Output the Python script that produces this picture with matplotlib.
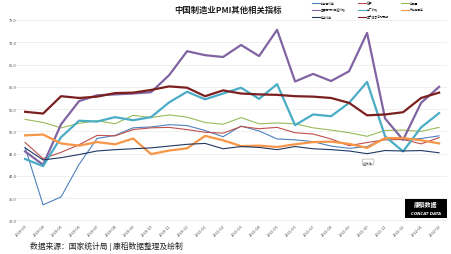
import matplotlib
matplotlib.use("Agg")
import matplotlib.pyplot as plt
from matplotlib.patches import Rectangle

plt.rcParams['font.family'] = ['Noto Sans CJK SC', 'DejaVu Sans']

months = ["2020-03", "2020-04", "2020-05", "2020-06", "2020-07", "2020-08",
          "2020-09", "2020-10", "2020-11", "2020-12", "2021-01", "2021-02",
          "2021-03", "2021-04", "2021-05", "2021-06", "2021-07", "2021-08",
          "2021-09", "2021-10", "2021-11", "2021-12", "2022-01", "2022-02"]

new_export = [46.4, 33.5, 35.3, 42.6, 48.4, 49.1, 50.8, 51.0, 51.5, 51.3, 50.2, 48.8,
              51.2, 50.1, 48.3, 48.1, 47.7, 46.7, 46.2, 46.6, 48.5, 48.1, 48.4, 49.0]
imports = [47.5, 43.9, 45.3, 47.0, 49.1, 49.0, 50.4, 50.8, 50.9, 50.4, 49.8, 49.6,
           51.1, 50.6, 50.9, 49.7, 49.4, 48.3, 46.8, 47.5, 48.1, 48.2, 47.2, 48.6]
purchase = [52.7, 52.0, 50.8, 51.8, 52.4, 51.7, 53.6, 53.1, 53.7, 53.2, 52.0, 51.6,
            53.1, 51.7, 51.9, 51.7, 50.8, 50.3, 49.7, 48.9, 50.2, 50.3, 50.0, 50.9]
raw_price = [45.5, 42.5, 51.6, 56.8, 58.1, 58.3, 58.5, 58.8, 62.6, 68.0, 67.1, 66.7,
             69.4, 66.9, 72.8, 61.2, 62.9, 61.3, 63.5, 72.1, 52.9, 48.1, 56.4, 60.0]
out_price = [43.8, 42.2, 48.7, 52.4, 52.2, 53.2, 52.5, 53.2, 56.5, 58.9, 57.2, 58.5,
             59.8, 57.3, 60.6, 51.4, 53.8, 53.4, 56.4, 61.1, 48.9, 45.5, 50.9, 54.1]
fin_stock = [49.1, 49.3, 47.3, 46.8, 47.6, 47.1, 48.4, 44.9, 45.7, 46.2, 49.0, 48.0,
             46.7, 46.8, 46.5, 47.1, 47.6, 47.7, 47.2, 46.3, 48.5, 48.5, 48.0, 47.3]
backlog = [46.3, 43.6, 44.1, 44.8, 45.6, 45.9, 46.1, 46.3, 46.7, 47.1, 47.3, 46.1,
           46.6, 46.4, 45.9, 46.6, 46.1, 45.9, 45.6, 45.0, 45.7, 45.6, 45.7, 45.2]
expect = [54.4, 54.0, 57.9, 57.5, 57.8, 58.6, 58.7, 59.3, 60.1, 59.8, 57.9, 59.2,
          58.5, 58.3, 58.2, 57.9, 57.8, 57.5, 56.4, 53.6, 53.8, 54.3, 57.5, 58.7]

series = [
    ("新出口订单", new_export, "#4f81bd", 0.8),
    ("进口", imports, "#c0504d", 0.8),
    ("采购量", purchase, "#9bbb59", 0.8),
    ("主要原材料购进价格", raw_price, "#8064a2", 1.6),
    ("出厂价格", out_price, "#4bacc6", 1.6),
    ("产成品库存", fin_stock, "#f79646", 1.6),
    ("在手订单", backlog, "#1f3864", 0.8),
    ("生产经营活动预期", expect, "#7b1f1f", 1.6),
]

W, H = 452, 255
fig = plt.figure(figsize=(W / 100, H / 100), dpi=100)
ax_l, ax_r, ax_t, ax_b = 15, 447, 21, 221.5
ax = fig.add_axes([ax_l / W, 1 - ax_b / H, (ax_r - ax_l) / W, (ax_b - ax_t) / H])

x = list(range(len(months)))
handles = []
for name, vals, col, lw in series:
    h, = ax.plot(x, vals, color=col, lw=lw, label=name, solid_joinstyle='round')
    handles.append(h)

ax.set_ylim(30, 75)
yt = [30, 35, 40, 45, 50, 55, 60, 65, 70, 75]
ax.set_yticks(yt)
ax.set_yticklabels([f"{v:.1f}" for v in yt])
ax.set_xlim(-0.56, 23.44)
ax.set_xticks(x)
ax.set_xticklabels(months, rotation=45, ha='right', rotation_mode='anchor')
ax.tick_params(axis='both', length=0, labelsize=2.8, colors='#444444', pad=2)
ax.tick_params(axis='y', pad=-1)
ax.grid(axis='y', color='#eeeeee', lw=0.6)
ax.set_axisbelow(True)
for s in ax.spines.values():
    s.set_visible(False)

fig.text(228 / W, 1 - 10 / H, "中国制造业PMI其他相关指标", ha='center', va='center',
         fontsize=6, fontweight='bold', color='#222222')

# legend laid out row-wise (matplotlib fills columns first)
order = [0, 3, 6, 1, 4, 7, 2, 5]
leg = fig.legend([handles[i] for i in order], [series[i][0] for i in order],
                 ncol=3, loc='upper left', bbox_to_anchor=(311 / W, 1 - 0.5 / H),
                 fontsize=2.0, frameon=False, handlelength=2.9, handletextpad=0.3,
                 columnspacing=4.4, labelspacing=1.1, borderaxespad=0)
for line in leg.get_lines():
    line.set_linewidth(0.8)

fig.text(30 / W, 1 - 246 / H, "数据来源：国家统计局 | 康稻数据整理及绘制", ha='left', va='center',
         fontsize=5.6, color='#222222')

fig.text(368 / W, 1 - 163 / H, "坐标轴", ha='center', va='center', fontsize=2.3,
         color='#555555', bbox=dict(boxstyle='round,pad=0.3', fc='white', ec='#999999', lw=0.4))

fig.patches.append(Rectangle((405 / W, 1 - 219 / H), 42 / W, 19 / H, transform=fig.transFigure,
                             facecolor='black', edgecolor='none'))
fig.text(426 / W, 1 - 205 / H, "康稻数据", ha='center', va='center', fontsize=4.2,
         color='white', fontweight='bold')
fig.text(426 / W, 1 - 214 / H, "CONCAT DATA", ha='center', va='center', fontsize=2.8,
         color='white', fontstyle='italic', fontweight='bold', family='DejaVu Sans')

fig.savefig("out.png", dpi=100)
